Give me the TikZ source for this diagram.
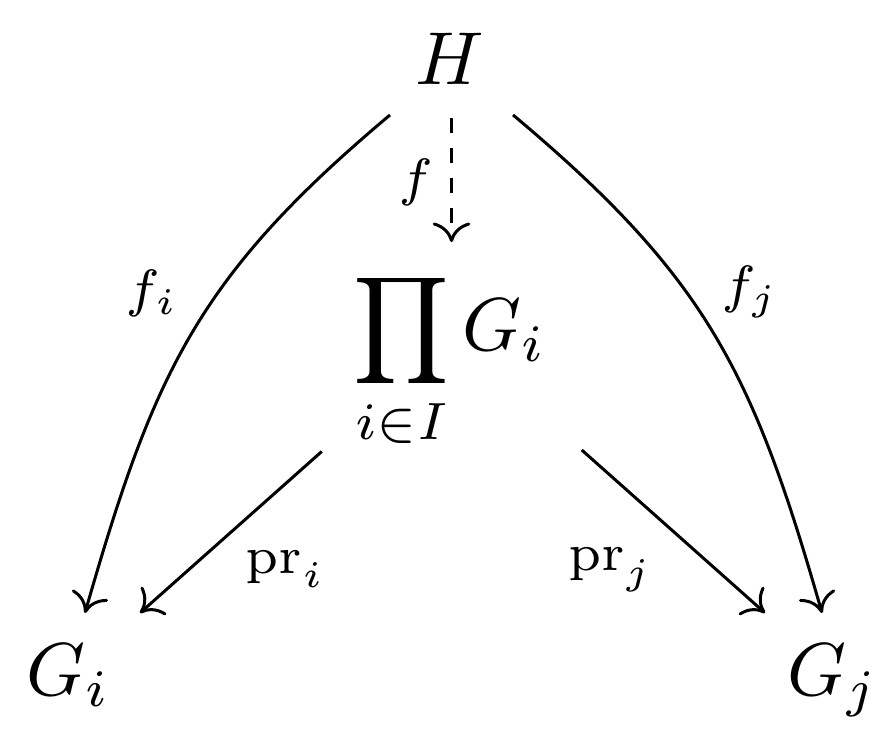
\documentclass[tikz,border=0pt]{standalone}
\usetikzlibrary{arrows.meta}
\begin{document}
\begin{tikzpicture}[x=1pt,y=1pt,
  obj/.style={anchor=base,inner sep=0pt},
  arr/.style={-{Computer Modern Rightarrow[length=2.6pt,width=5pt]},line width=0.4pt},
  lbl/.style={inner sep=0pt,anchor=center}]
\useasboundingbox (0,0) rectangle (119.2,-98);
\node[obj] (H) at (60,-11.33) {$H$};
\node[obj] (P) at (60,-46.67) {$\displaystyle\prod_{i\in I} G_i$};
\node[obj] (Gi) at (9.13,-92.67) {$G_i$};
\node[obj] (Gj) at (111.07,-92.67) {$G_j$};
\node[lbl] (lf) at (55.5,-24.3) {$\scriptstyle f$};
\node[lbl] (lfi) at (20.33,-39.13) {$\scriptstyle f_i$};
\node[lbl] (lfj) at (100,-38.9) {$\scriptstyle f_j$};
\node[lbl] (lpri) at (38.1,-75.9) {$\scriptstyle \mathrm{pr}_i$};
\node[lbl] (lprj) at (81.4,-76) {$\scriptstyle \mathrm{pr}_j$};
\draw[arr,dash pattern=on 2pt off 2pt] ([shift={(0.2,-4.4)}]H.base) -- ([shift={(0.2,14.4)}]P.base);
\draw[arr] ([shift={(-8,-4)}]H.base) to[out=220,in=74,looseness=1.1] ([shift={(2.2,10.94)}]Gi.base);
\draw[arr] ([shift={(8.4,-4)}]H.base) to[out=-40,in=106,looseness=1.1] ([shift={(-1.47,10.94)}]Gj.base);
\draw[arr] ([shift={(-17.1,-13.53)}]P.base) -- ([shift={(9.54,10.94)}]Gi.base);
\draw[arr] ([shift={(17.56,-13.33)}]P.base) -- ([shift={(-9.07,10.94)}]Gj.base);
\end{tikzpicture}
\end{document}
